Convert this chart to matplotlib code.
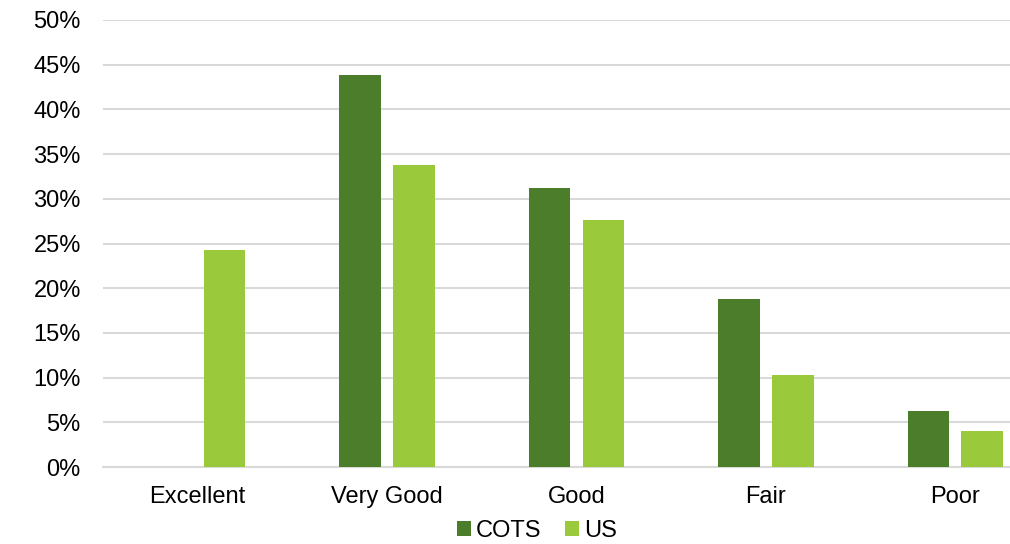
import matplotlib
matplotlib.use("Agg")
import matplotlib.pyplot as plt
import numpy as np
from matplotlib.ticker import FuncFormatter

categories = ["Excellent", "Very Good", "Good", "Fair", "Poor"]
cots = [0.0, 43.8, 31.2, 18.8, 6.3]
us = [24.3, 33.8, 27.6, 10.3, 4.0]
series_names = ["COTS", "US"]
colors = ["#4B7D2B", "#9ACA3C"]

plt.rcParams["font.family"] = ["Liberation Sans", "DejaVu Sans"]

fig = plt.figure(figsize=(10.10, 5.44), dpi=100)
# axes spans past the right edge so the last group sits near the border
ax = fig.add_axes([103 / 1010, 1 - 467 / 544, 947 / 1010, 447 / 544])

x = np.arange(len(categories))
w = 0.22
off = 0.142
ax.bar(x - off, cots, width=w, color=colors[0], label=series_names[0], zorder=3)
ax.bar(x + off, us, width=w, color=colors[1], label=series_names[1], zorder=3)

ax.set_xlim(-0.5, len(categories) - 0.5)
ax.set_ylim(0, 50)
ax.set_yticks(np.arange(0, 51, 5))
ax.yaxis.set_major_formatter(FuncFormatter(lambda v, p: f"{int(v)}%"))
ax.set_xticks(x)
ax.set_xticklabels(categories)
ax.grid(axis="y", color="#d9d9d9", linewidth=1.5, zorder=0)
for s in ["top", "right", "left"]:
    ax.spines[s].set_visible(False)
ax.spines["bottom"].set_color("#d9d9d9")
ax.spines["bottom"].set_linewidth(1.5)
ax.tick_params(axis="both", length=0, labelsize=17, colors="#000000")
ax.tick_params(axis="y", pad=16)
ax.tick_params(axis="x", pad=14)

fig.legend(loc="center", bbox_to_anchor=(537 / 1010, 1 - 531 / 544), ncol=2,
           frameon=False, fontsize=17, handlelength=0.6, handleheight=0.6,
           handletextpad=0.2, columnspacing=1.0)

fig.savefig("out.png", dpi=100)
